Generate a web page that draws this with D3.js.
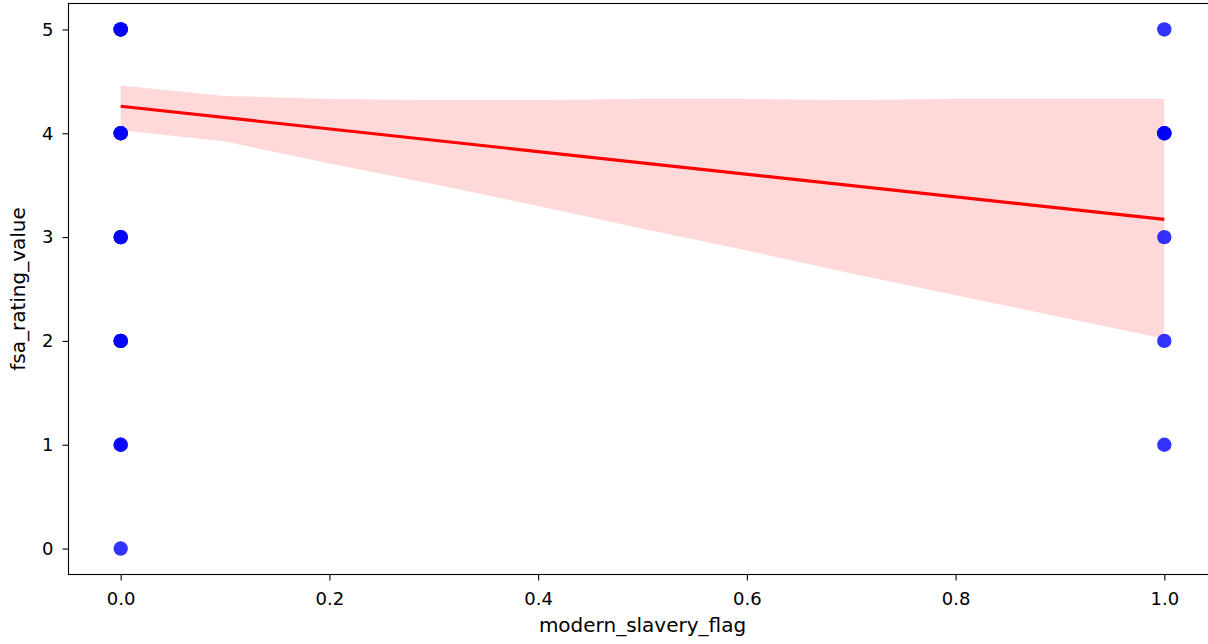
<!DOCTYPE html>
<html>
<head>
<meta charset="utf-8">
<script src="https://cdn.jsdelivr.net/npm/d3@7"></script>
<style>
  body { margin: 0; background: #fff; }
  text { font-family: "DejaVu Sans", sans-serif; fill: #000; }
</style>
</head>
<body>
<svg id="chart" width="1208" height="644"></svg>
<script>
// ratings for flag = 0 and flag = 1 (repeats = overlapping dots)
const ratingsFlag0 = [5, 5, 5, 4, 4, 4, 3, 3, 3, 2, 2, 2, 1, 1, 0]
const ratingsFlag1 = [5, 4, 4, 4, 3, 2, 1]

// fitted line and bootstrap band
const fitX = [0, 1]
const fitY = [4.26, 3.17]
const bandX = [0, 0.1, 0.2, 0.3, 0.4, 0.5, 0.6, 0.7, 0.8, 0.9, 1.0]
const bandHigh = [4.46, 4.36, 4.33, 4.32, 4.32, 4.33, 4.33, 4.32, 4.33, 4.33, 4.33]
const bandLow = [4.03, 3.92, 3.71, 3.51, 3.30, 3.08, 2.87, 2.65, 2.44, 2.23, 2.02]

const xTicks = [0, 0.2, 0.4, 0.6, 0.8, 1.0]
const yTicks = [0, 1, 2, 3, 4, 5]

const svg = d3.select("#chart")
const plotLeft = 68.5, plotRight = 1216.5, plotTop = 3.5, plotBottom = 574.5
const tickFont = 18, labelFont = 20

const x = d3.scaleLinear().domain([-0.05, 1.05]).range([plotLeft, plotRight])
const y = d3.scaleLinear().domain([-0.25, 5.25]).range([plotBottom, plotTop])

// band
const band = bandX.map((v, i) => ({ x: v, lo: bandLow[i], hi: bandHigh[i] }))
svg.append("path")
  .datum(band)
  .attr("fill", "#ff0000")
  .attr("fill-opacity", 0.15)
  .attr("d", d3.area().x(d => x(d.x)).y0(d => y(d.lo)).y1(d => y(d.hi)))

// points
let points = []
ratingsFlag0.forEach(r => points.push({ x: 0, y: r }))
ratingsFlag1.forEach(r => points.push({ x: 1, y: r }))
svg.append("g").selectAll("circle")
  .data(points)
  .join("circle")
  .attr("cx", d => x(d.x))
  .attr("cy", d => y(d.y))
  .attr("r", 7.2)
  .attr("fill", "#0000ff")
  .attr("fill-opacity", 0.8)

// fit line
svg.append("path")
  .datum(fitX.map((v, i) => [v, fitY[i]]))
  .attr("fill", "none")
  .attr("stroke", "#ff0000")
  .attr("stroke-width", 3.2)
  .attr("d", d3.line().x(d => x(d[0])).y(d => y(d[1])))

// axes
const xAxis = svg.append("g")
  .attr("transform", `translate(0,${plotBottom})`)
  .call(d3.axisBottom(x).tickValues(xTicks).tickFormat(d3.format(".1f")).tickSize(6).tickPadding(12).tickSizeOuter(0))
const yAxis = svg.append("g")
  .attr("transform", `translate(${plotLeft},0)`)
  .call(d3.axisLeft(y).tickValues(yTicks).tickFormat(d3.format("d")).tickSize(6).tickPadding(9).tickSizeOuter(0))

;[xAxis, yAxis].forEach(g => {
  g.select(".domain").remove()
  g.selectAll(".tick line").attr("stroke", "#000").attr("stroke-width", 1.1)
  g.selectAll(".tick text").attr("font-size", tickFont).attr("font-family", "DejaVu Sans").attr("fill", "#000")
})

// frame
svg.append("rect")
  .attr("x", plotLeft).attr("y", plotTop)
  .attr("width", plotRight - plotLeft).attr("height", plotBottom - plotTop)
  .attr("fill", "none").attr("stroke", "#000").attr("stroke-width", 1.1)

// labels
svg.append("text")
  .attr("x", (plotLeft + plotRight) / 2)
  .attr("y", 632)
  .attr("text-anchor", "middle")
  .attr("font-size", labelFont)
  .text("modern_slavery_flag")

svg.append("text")
  .attr("transform", `translate(25,${(plotTop + plotBottom) / 2}) rotate(-90)`)
  .attr("text-anchor", "middle")
  .attr("font-size", labelFont)
  .text("fsa_rating_value")
</script>
</body>
</html>
